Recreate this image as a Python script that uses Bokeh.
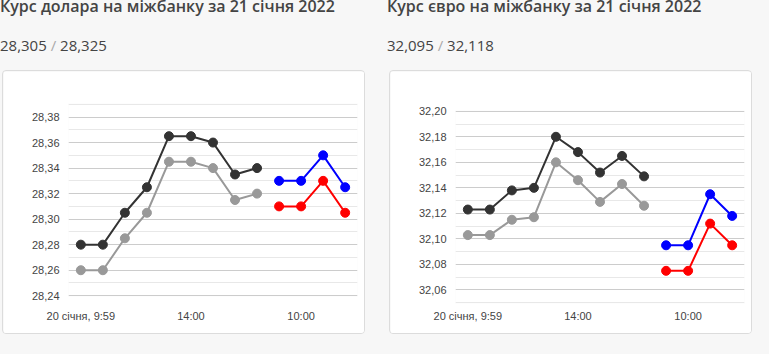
from bokeh.plotting import figure
from bokeh.models import Div, FixedTicker, CustomJSTickFormatter, Range1d
from bokeh.layouts import row, column
from bokeh.embed import file_html
from bokeh.resources import INLINE

# ---------------- data ----------------
day1_slots = [0, 1, 2, 3, 4, 5, 6, 7, 8]
day2_slots = [9, 10, 11, 12]
x_tick_slots = [0, 5, 10]
x_tick_labels = ["20 січня, 9:59", "14:00", "10:00"]

usd_title = "Курс долара на міжбанку за 21 січня 2022"
usd_buy_now = "28,305"
usd_sell_now = "28,325"
usd_sell_day1 = [28.28, 28.28, 28.305, 28.325, 28.365, 28.365, 28.36, 28.335, 28.34]
usd_buy_day1 = [28.26, 28.26, 28.285, 28.305, 28.345, 28.345, 28.34, 28.315, 28.32]
usd_sell_day2 = [28.33, 28.33, 28.35, 28.325]
usd_buy_day2 = [28.31, 28.31, 28.33, 28.305]
usd_y_major = [28.24, 28.26, 28.28, 28.30, 28.32, 28.34, 28.36, 28.38]
usd_y_minor = [28.25, 28.27, 28.29, 28.31, 28.33, 28.35, 28.37, 28.39]

eur_title = "Курс євро на міжбанку за 21 січня 2022"
eur_buy_now = "32,095"
eur_sell_now = "32,118"
eur_sell_day1 = [32.123, 32.123, 32.138, 32.140, 32.180, 32.168, 32.152, 32.165, 32.149]
eur_buy_day1 = [32.103, 32.103, 32.115, 32.117, 32.160, 32.146, 32.129, 32.143, 32.126]
eur_sell_day2 = [32.095, 32.095, 32.135, 32.118]
eur_buy_day2 = [32.075, 32.075, 32.112, 32.095]
eur_y_major = [32.06, 32.08, 32.10, 32.12, 32.14, 32.16, 32.18, 32.20]
eur_y_minor = [32.05, 32.07, 32.09, 32.11, 32.13, 32.15, 32.17, 32.19]

BG = "#f7f7f7"
TXT = "#444444"


def make_chart(sell1, buy1, sell2, buy2, y_major, y_minor, y_lo, y_hi,
               border_top, border_bottom, x_standoff):
    p = figure(width=363, height=264, output_backend="svg", toolbar_location=None,
               x_range=Range1d(-0.56, 12.56),
               y_range=Range1d(y_lo - 0.0006, y_hi + 0.0006),
               min_border_left=65, min_border_right=9,
               min_border_top=border_top, min_border_bottom=border_bottom,
               background_fill_color="white", border_fill_color="white",
               outline_line_color=None, margin=(0, 0, 0, 2),
               styles={"border": "1px solid #dcdcdc", "border-radius": "4px",
                       "overflow": "hidden"})
    yt = FixedTicker(ticks=y_major, minor_ticks=y_minor)
    p.yaxis.ticker = yt
    p.ygrid.ticker = yt
    p.ygrid.grid_line_color = "#cccccc"
    p.ygrid.minor_grid_line_color = "#e8e8e8"
    p.xgrid.grid_line_color = None
    p.yaxis.formatter = CustomJSTickFormatter(code="return tick.toFixed(2).replace('.', ',');")
    p.xaxis.ticker = FixedTicker(ticks=x_tick_slots)
    p.xaxis.major_label_overrides = dict(zip(x_tick_slots, x_tick_labels))
    for ax in (p.xaxis, p.yaxis):
        ax.axis_line_color = None
        ax.major_tick_line_color = None
        ax.minor_tick_line_color = None
        ax.major_tick_out = 0
        ax.minor_tick_out = 0
        ax.major_label_text_font = "Liberation Sans"
        ax.major_label_text_font_size = "11px"
        ax.major_label_text_color = TXT
    p.yaxis.major_label_standoff = 9
    p.xaxis.major_label_standoff = x_standoff

    for xs, ys, c in ((day1_slots, buy1, "#999999"), (day1_slots, sell1, "#333333"),
                      (day2_slots, buy2, "#ff0000"), (day2_slots, sell2, "#0000ff")):
        p.line(xs, ys, line_color=c, line_width=2)
        p.scatter(xs, ys, size=9, fill_color=c, line_color=c)
    return p


def header(title, buy, sell):
    t = Div(text=f'<div style="font-family:\'Open Sans\';font-size:16px;'
                 f'font-weight:600;color:{TXT};white-space:nowrap;">{title}</div>',
            width=370, height=40, margin=(0, 0, 0, 0))
    s = Div(text=f'<div style="font-family:\'Open Sans\';font-size:15px;color:{TXT};'
                 f'white-space:nowrap;">{buy} <span style="color:#aaaaaa">/</span> {sell}</div>',
            width=370, height=35, margin=(0, 0, 0, 0))
    return t, s


def pad(w, h):
    return Div(text="", width=w, height=h, margin=(0, 0, 0, 0),
               styles={"background-color": BG})


usd_chart = make_chart(usd_sell_day1, usd_buy_day1, usd_sell_day2, usd_buy_day2,
                       usd_y_major, usd_y_minor, 28.24, 28.39, 32, 39, 13)
eur_chart = make_chart(eur_sell_day1, eur_buy_day1, eur_sell_day2, eur_buy_day2,
                       eur_y_major, eur_y_minor, 32.05, 32.20, 39, 32, 6)

ut, us = header(usd_title, usd_buy_now, usd_sell_now)
et, es = header(eur_title, eur_buy_now, eur_sell_now)

left = column(ut, us, usd_chart, spacing=0)
right = column(et, es, eur_chart, spacing=0)
panels = row(pad(8, 341), left, pad(17, 341), right, pad(12, 341), spacing=0)
p = column(pad(777, 8), panels, pad(777, 18), spacing=0,
           styles={"background-color": BG, "margin": "-13px -8px -8px -8px"})

open("out.html", "w").write(file_html(p, INLINE))
